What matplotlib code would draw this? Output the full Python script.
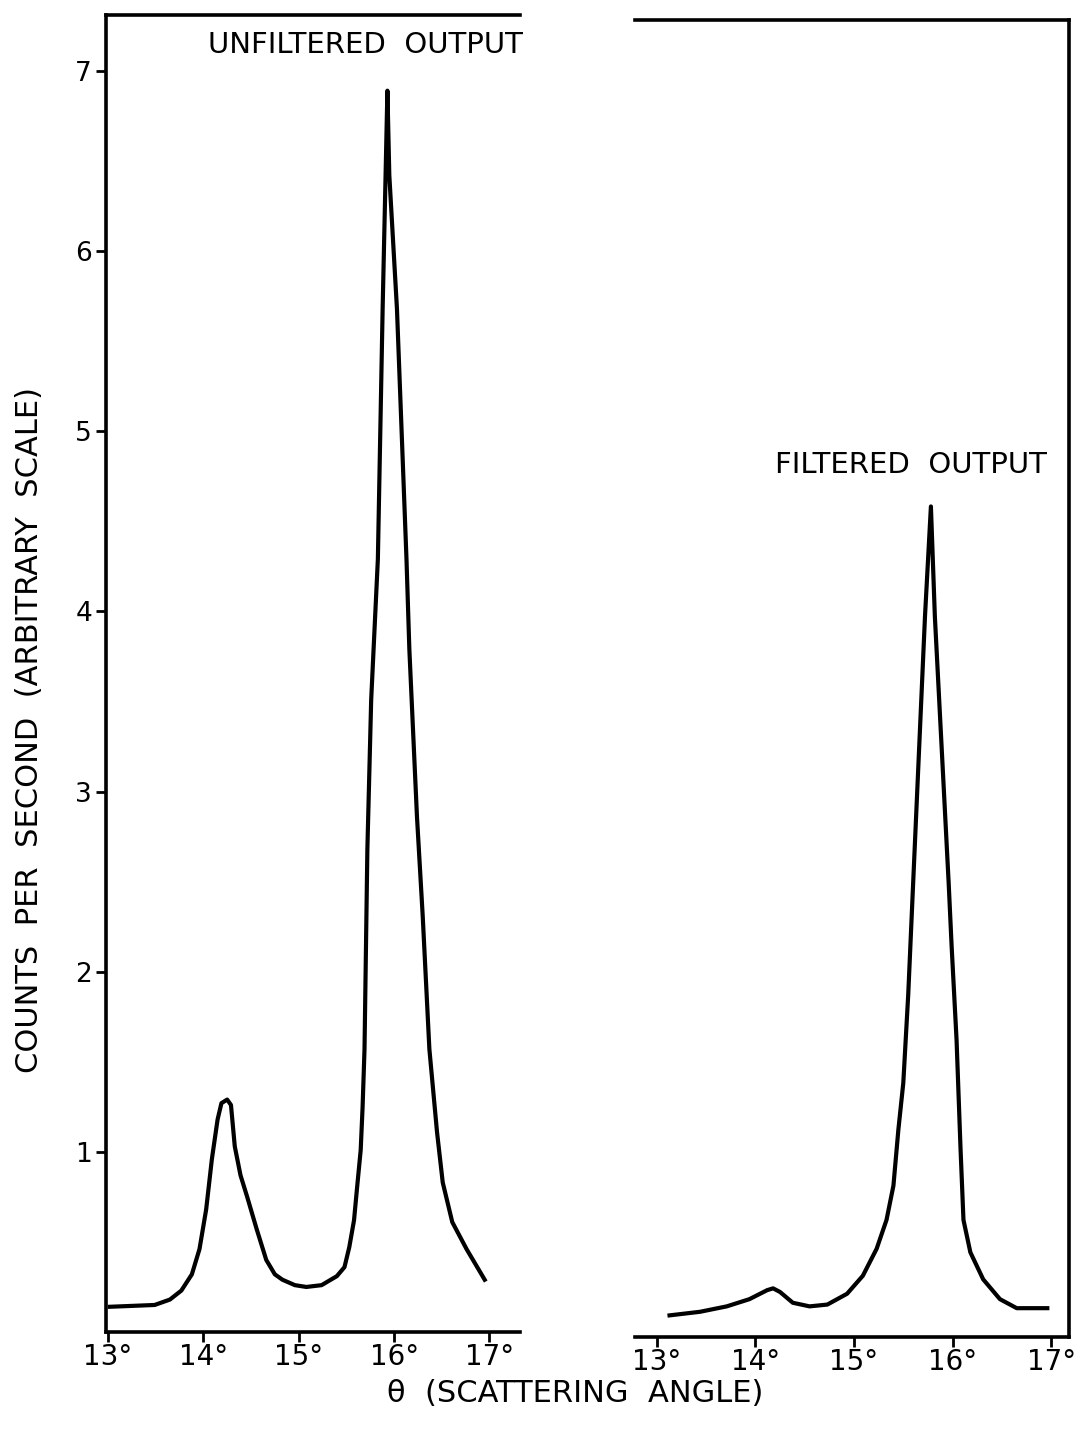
import matplotlib
matplotlib.use("Agg")
import matplotlib.pyplot as plt

# ---- data ----
unf_angle = [13.02, 13.49, 13.65, 13.77, 13.88, 13.96, 14.03, 14.09, 14.15, 14.19,
             14.25, 14.29, 14.33, 14.39, 14.46, 14.56, 14.66, 14.75, 14.83, 14.96,
             15.08, 15.24, 15.40, 15.48, 15.53, 15.58, 15.61, 15.65, 15.67, 15.69,
             15.72, 15.76, 15.83, 15.88, 15.91, 15.93, 15.95, 16.03, 16.13, 16.16,
             16.24, 16.30, 16.37, 16.45, 16.51, 16.61, 16.76, 16.95]
unf_counts = [0.14, 0.15, 0.18, 0.23, 0.32, 0.46, 0.68, 0.96, 1.18, 1.27,
              1.29, 1.26, 1.03, 0.87, 0.75, 0.57, 0.40, 0.32, 0.29, 0.26,
              0.25, 0.26, 0.31, 0.36, 0.47, 0.62, 0.79, 1.01, 1.25, 1.57,
              2.68, 3.51, 4.29, 5.68, 6.40, 6.89, 6.42, 5.68, 4.29, 3.79,
              2.86, 2.31, 1.57, 1.11, 0.83, 0.61, 0.46, 0.29]

fil_angle = [13.13, 13.44, 13.71, 13.94, 14.12, 14.18, 14.25, 14.38, 14.55, 14.73,
             14.93, 15.09, 15.23, 15.33, 15.40, 15.45, 15.50, 15.55, 15.60, 15.66,
             15.72, 15.78, 15.82, 15.89, 15.96, 15.99, 16.04, 16.08, 16.11, 16.18,
             16.31, 16.48, 16.65, 16.82, 16.96]
fil_counts = [0.12, 0.14, 0.17, 0.21, 0.26, 0.27, 0.25, 0.19, 0.17, 0.18,
              0.24, 0.34, 0.49, 0.65, 0.84, 1.15, 1.41, 1.90, 2.52, 3.26,
              4.00, 4.61, 4.00, 3.26, 2.52, 2.17, 1.65, 1.05, 0.65, 0.47,
              0.32, 0.21, 0.16, 0.16, 0.16]

x_ticks = [13, 14, 15, 16, 17]
x_tick_labels = ["13°", "14°", "15°", "16°", "17°"]
y_ticks = [1, 2, 3, 4, 5, 6, 7]
y_tick_labels = ["1", "2", "3", "4", "5", "6", "7"]

plt.rcParams['font.family'] = ['DejaVu Sans']

W, H = 1078, 1433
fig = plt.figure(figsize=(W / 100, H / 100), dpi=100)

def frac(l, t, r, b):
    return [l / W, 1 - b / H, (r - l) / W, (b - t) / H]

LW_SPINE = 2.6
LW_CURVE = 3.0

ax1 = fig.add_axes(frac(106, 15, 520, 1332))
ax2 = fig.add_axes(frac(635, 20, 1069, 1337))

ax1.plot(unf_angle, unf_counts, color="black", lw=LW_CURVE, solid_joinstyle="round")
ax2.plot(fil_angle, fil_counts, color="black", lw=LW_CURVE, solid_joinstyle="round")

ax1.set_xlim(12.98, 17.32)
ax2.set_xlim(12.78, 17.18)
for ax in (ax1, ax2):
    ax.set_ylim(0, 7.31)
    ax.set_xticks(x_ticks)
    ax.set_xticklabels(x_tick_labels, fontsize=20)
    ax.tick_params(axis="x", direction="out", length=7, width=2, pad=1)
    for s in ax.spines.values():
        s.set_linewidth(LW_SPINE)

ax1.spines["right"].set_visible(False)
ax1.set_yticks(y_ticks)
ax1.set_yticklabels(y_tick_labels, fontsize=19)
ax1.tick_params(axis="y", direction="out", length=7, width=2, pad=3)

ax2.spines["left"].set_visible(False)
ax2.set_yticks([])

fig.text(365 / W, 1 - 45 / H, "UNFILTERED  OUTPUT", ha="center", va="center", fontsize=21)
fig.text(911 / W, 1 - 465 / H, "FILTERED  OUTPUT", ha="center", va="center", fontsize=21)
fig.text(575 / W, 1 - 1393 / H, "θ  (SCATTERING  ANGLE)", ha="center", va="center", fontsize=22)
fig.text(30 / W, 1 - 730 / H, "COUNTS  PER  SECOND  (ARBITRARY  SCALE)",
         ha="center", va="center", rotation=90, fontsize=22)

fig.savefig("out.png", dpi=100)
